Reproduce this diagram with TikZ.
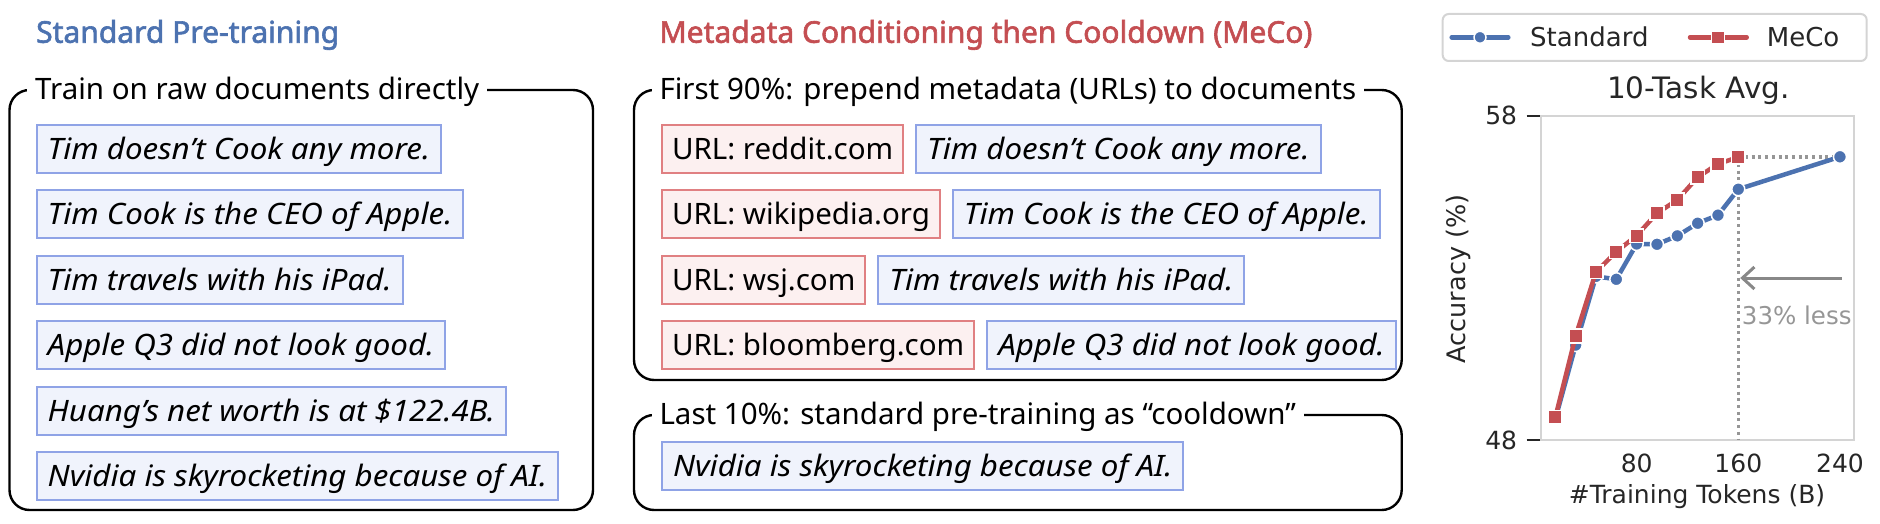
\documentclass[tikz,border=0pt]{standalone}
\usepackage{fontspec}
\setmainfont{Noto Sans}[ItalicFeatures={FakeStretch=1.06}]
\newfontfamily\headfont{Noto Sans}[FakeBold=2]
\newfontfamily\plotfont{DejaVu Sans}
\usetikzlibrary{arrows.meta,positioning}

\definecolor{stdblue}{RGB}{76,114,176}
\definecolor{mecored}{RGB}{196,78,82}
\definecolor{docfill}{RGB}{240,243,252}
\definecolor{docline}{RGB}{143,163,230}
\definecolor{urlfill}{RGB}{252,240,240}
\definecolor{urlline}{RGB}{224,128,130}
\definecolor{axisgray}{RGB}{212,212,212}
\definecolor{plottext}{RGB}{38,38,38}
\definecolor{guidegray}{RGB}{150,150,150}
\definecolor{arrowgray}{RGB}{136,136,136}

\begin{document}
\begin{tikzpicture}[x=1pt,y=-1pt,node distance=15.5pt,>=Latex,
  docbox/.style={draw=docline,fill=docfill,line width=2pt,minimum height=48pt,inner xsep=11pt,inner ysep=0pt,
    text height=21pt,text depth=0pt,font=\fontsize{29.5}{30}\selectfont\itshape},
  urlbox/.style={draw=urlline,fill=urlfill,line width=2pt,minimum height=48pt,inner xsep=10pt,inner ysep=0pt,
    text height=21pt,text depth=0pt,font=\fontsize{29.5}{30}\selectfont},
  phase/.style={fill=white,anchor=west,inner xsep=8pt,inner ysep=0pt,text height=21pt,text depth=0pt,
    font=\fontsize{29.5}{30}\selectfont},
  phaseframe/.style={line width=2.4pt,rounded corners=20pt},
  heading/.style={anchor=west,inner sep=0pt,text height=21.5pt,text depth=0pt,font=\headfont\fontsize{30}{32}\selectfont},
  ticklbl/.style={inner sep=0pt,text=plottext,text height=18pt,text depth=0pt,font=\plotfont\fontsize{25}{26}\selectfont},
  bluemark/.style={fill=stdblue,draw=white,line width=1.5pt},
  redmark/.style={fill=mecored,draw=white,line width=1.5pt}
]
\useasboundingbox (0,0) rectangle (1880,524);

% standard pre-training
\node[heading,text=stdblue] (stdhead) at (36,32) {Standard Pre-training};
\draw[phaseframe] (9.5,90) rectangle (593,510);
\node[phase] (rawlbl) at (27,89) {Train on raw documents directly};
\node[docbox,anchor=north west] (s1) at (35.7,123.7) {Tim doesn’t Cook any more.};
\node[docbox,below=of s1.south west,anchor=north west] (s2) {Tim Cook is the CEO of Apple.};
\node[docbox,below=of s2.south west,anchor=north west] (s3) {Tim travels with his iPad.};
\node[docbox,below=of s3.south west,anchor=north west] (s4) {Apple Q3 did not look good.};
\node[docbox,below=of s4.south west,anchor=north west] (s5) {Huang’s net worth is at \$122.4B.};
\node[docbox,below=of s5.south west,anchor=north west] (s6) {Nvidia is skyrocketing because of AI.};

% meco
\node[heading,text=mecored] (mecohead) at (659.3,32) {Metadata Conditioning then Cooldown (MeCo)};
\draw[phaseframe] (634,90) rectangle (1401.7,380);
\draw[phaseframe] (634,415) rectangle (1401.7,510);
\node[phase] (firstlbl) at (651.3,89) {First 90\%: prepend metadata (URLs) to documents};
\node[phase] (lastlbl) at (651.3,414) {Last 10\%: standard pre-training as “cooldown”};
\node[urlbox,anchor=north west] (u1) at (661,123.7) {URL: reddit.com};
\node[docbox,right=11pt of u1] (m1) {Tim doesn’t Cook any more.};
\node[urlbox,below=of u1.south west,anchor=north west] (u2) {URL: wikipedia.org};
\node[docbox,right=11pt of u2] (m2) {Tim Cook is the CEO of Apple.};
\node[urlbox,below=of u2.south west,anchor=north west] (u3) {URL: wsj.com};
\node[docbox,right=11pt of u3] (m3) {Tim travels with his iPad.};
\node[urlbox,below=of u3.south west,anchor=north west] (u4) {URL: bloomberg.com};
\node[docbox,right=11pt of u4] (m4) {Apple Q3 did not look good.};
\node[docbox,anchor=north west] (m5) at (661,441.3) {Nvidia is skyrocketing because of AI.};

% legend
\draw[axisgray,line width=2pt,rounded corners=6pt] (1442.7,14) rectangle (1866.7,61);
\draw[stdblue,line width=4.5pt,line cap=round] (1451.7,37.3) -- (1508.3,37.3);
\filldraw[bluemark] (1480,37.3) circle[radius=6pt];
\node[ticklbl,anchor=west,font=\plotfont\fontsize{26}{27}\selectfont] (stdkey) at (1530,37.3) {Standard};
\draw[mecored,line width=4.5pt,line cap=round] (1690,37.3) -- (1746.7,37.3);
\filldraw[redmark] (1718,37.3) ++(-6.5pt,-6.5pt) rectangle ++(13pt,13pt);
\node[ticklbl,anchor=west,font=\plotfont\fontsize{26}{27}\selectfont] (mecokey) at (1766.7,37.3) {MeCo};

% axes
\node[ticklbl,text height=21.5pt,font=\plotfont\fontsize{29.5}{30}\selectfont] (avgtitle) at (1698.3,87.5) {10-Task Avg.};
\node[ticklbl,anchor=east] (y58) at (1517.3,116) {58};
\node[ticklbl,anchor=east] (y48) at (1517.3,440) {48};
\draw[plottext,line width=2.5pt] (1526.7,116) -- (1541,116);
\draw[plottext,line width=2.5pt] (1526.7,440) -- (1541,440);
\node[ticklbl] (x80) at (1636.7,463.3) {80};
\node[ticklbl] (x160) at (1738.3,463.3) {160};
\node[ticklbl] (x240) at (1840,463.3) {240};
\node[ticklbl] (xlbl) at (1697,494.7) {\#Training Tokens (B)};
\node[inner sep=0pt,text=plottext,rotate=90,font=\plotfont\fontsize{25.5}{26}\selectfont] (ylbl) at (1458.3,279) {Accuracy (\%)};

\begin{scope}[shift={(1535,1995.2)},x=1.2706pt,y=32.4pt]
  \draw[axisgray,line width=2.6pt] (4.8,48) rectangle (251.2,58);
  \coordinate (mecoend) at (160,56.73);
  \coordinate (stdend) at (240,56.73);
  \coordinate (floor) at (160,48);
  \draw[guidegray,line width=3.4pt,dash pattern=on 3pt off 3.7pt] (mecoend) -- (stdend);
  \draw[guidegray,line width=3.4pt,dash pattern=on 3pt off 3.7pt] (mecoend) -- (floor);
  \coordinate (lessfrom) at (241.4,53);
  \coordinate (lessto) at (161.5,53);
  \draw[arrowgray,line width=3pt,-{Straight Barb[length=12pt,width=22pt]}] (lessfrom) -- (lessto);
  \node[ticklbl,anchor=west,text=guidegray,font=\plotfont\fontsize{24.5}{25}\selectfont] (lesslbl) at (162.7,51.83) {33\% less};
  % standard
  \draw[stdblue,line width=4.5pt,line join=round] plot coordinates {(16,48.65) (32,50.93) (48,53.05) (64,52.96) (80,54.05) (96,54.04) (112,54.30) (128,54.69) (144,54.94) (160,55.74) (240,56.74)};
  \foreach \px/\py in {16/48.65,32/50.93,48/53.05,64/52.96,80/54.05,96/54.04,112/54.30,128/54.69,144/54.94,160/55.74,240/56.74}
    \filldraw[bluemark] (\px,\py) circle[radius=6.5pt];
  % meco
  \draw[mecored,line width=4.5pt,line join=round] plot coordinates {(16,48.70) (32,51.21) (48,53.19) (64,53.81) (80,54.31) (96,55.00) (112,55.41) (128,56.11) (144,56.52) (160,56.73)};
  \foreach \px/\py in {16/48.70,32/51.21,48/53.19,64/53.81,80/54.31,96/55.00,112/55.41,128/56.11,144/56.52,160/56.73}
    \filldraw[redmark] (\px,\py) ++(-6.8pt,-6.8pt) rectangle ++(13.6pt,13.6pt);
\end{scope}
\end{tikzpicture}
\end{document}
